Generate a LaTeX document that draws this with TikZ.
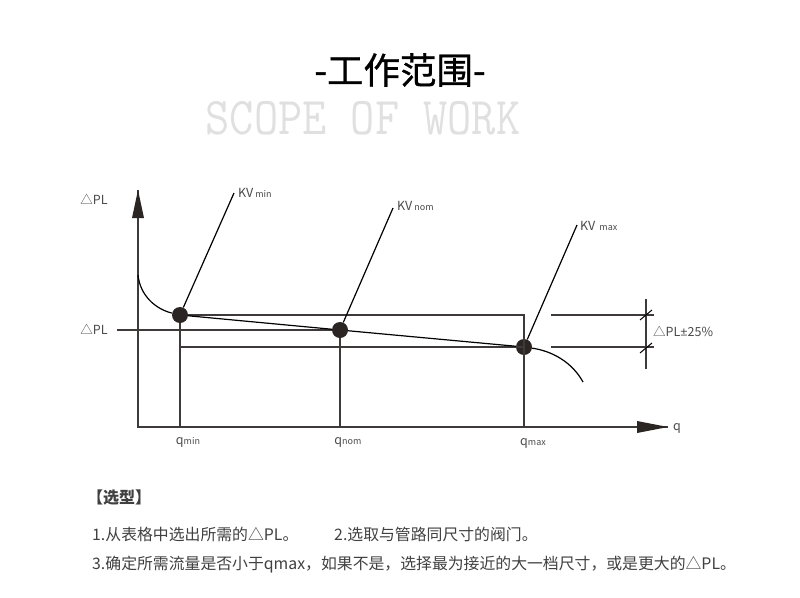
\documentclass[tikz,border=0pt]{standalone}
\usepackage{fontspec}
\usepackage{xcolor}
\setmainfont{Lato}
\newfontfamily\cjk{Noto Sans CJK SC}
\newfontfamily\cjktitle[FakeBold=0.8]{Noto Sans CJK SC}
\definecolor{inkline}{HTML}{3E3A39}
\definecolor{inkdot}{HTML}{2B2523}
\definecolor{inktext}{HTML}{4A4A4A}
\newcommand{\sublab}{\fontsize{9}{10}\selectfont}
\begin{document}
\begin{tikzpicture}[x=1pt,y=-1pt,
    dot/.style={circle, fill=inkdot, minimum size=16pt, inner sep=0pt},
    lab/.style={inner sep=0pt, text=inktext, font=\fontsize{12.5}{14}\selectfont\cjk},
    note/.style={inner sep=0pt, anchor=west, text=black!75, font=\fontsize{15.85}{18}\selectfont\cjk},
    axisline/.style={inkline, line width=1.5pt},
    thinline/.style={inkline, line width=1.3pt},
    curveline/.style={black, line width=1.2pt}]
            \useasboundingbox (0,0) rectangle (800,597);

            \node[inner sep=0pt, font=\fontsize{36.5}{40}\selectfont\cjktitle] (title) at (400,70) {-工作范围-};
            \node[inner sep=0pt, text=black!12, yscale=1.13, transform shape, font=\fontsize{47}{50}\selectfont\ttfamily] (subtitle) at (363,118) {SCOPE OF WORK};

            \coordinate (origin) at (138,427);
            \coordinate (ytip) at (138,190);
            \coordinate (xtip) at (668,427);

            \node[dot] (kvmin) at (180,315) {};
            \node[dot] (kvnom) at (340,330) {};
            \node[dot] (kvmax) at (524,347) {};

            \coordinate (qmin) at (180,427);
            \coordinate (qnom) at (340,427);
            \coordinate (qmax) at (524,427);
            \coordinate (topright) at (524,315);
            \coordinate (lowleft) at (180,347);
            \coordinate (lowright) at (524,347);
            \coordinate (plstart) at (117,330);

            \coordinate (kvminend) at (234,193);
            \coordinate (kvnomend) at (393,208);
            \coordinate (kvmaxend) at (577,225);

            \coordinate (curvestart) at (138,275);
            \coordinate (curveend) at (583,382);

            \coordinate (dimtopl) at (551,315);
            \coordinate (dimtopr) at (654,315);
            \coordinate (dimlowl) at (551,347);
            \coordinate (dimlowr) at (654,347);
            \coordinate (dimup) at (646,299);
            \coordinate (dimdown) at (646,369);

            % axes
            \draw[axisline] (ytip) -- (origin) -- (xtip);
            \fill[inkdot] (138,190) -- (144,218) -- (132,218) -- cycle;
            \fill[inkdot] (668,427) -- (637,433) -- (637,421) -- cycle;

            % verticals and levels
            \draw[thinline] (kvmin) -- (qmin);
            \draw[thinline] (kvnom) -- (qnom);
            \draw[thinline] (kvmin) -- (topright) -- (qmax);
            \draw[thinline] (lowleft) -- (lowright);
            \draw[thinline] (plstart) -- (kvnom);

            % curve
            \draw[curveline] (kvmin) -- (kvnom) -- (kvmax);
            \draw[curveline] (curvestart) .. controls (140,295) and (155,309) .. (kvmin);
            \draw[curveline] (kvmax) .. controls (552,351) and (572,362) .. (curveend);

            % leaders
            \draw[curveline] (kvmin) -- (kvminend);
            \draw[curveline] (kvnom) -- (kvnomend);
            \draw[curveline] (kvmax) -- (kvmaxend);

            % tolerance mark
            \draw[thinline] (dimtopl) -- (dimtopr);
            \draw[thinline] (dimlowl) -- (dimlowr);
            \draw[thinline] (dimup) -- (dimdown);
            \draw[black, line width=1pt] (640,320) -- (652,310);
            \draw[black, line width=1pt] (640,353) -- (652,343);

            % labels
            \node[lab] (ylabel) at (94,199) {△PL};
            \node[lab] (pllabel) at (94,329) {△PL};
            \node[lab, anchor=west] (xlabel) at (673,428) {q};
            \node[lab, anchor=west] (kvminlabel) at (238,193) {KV\,{\sublab min}};
            \node[lab, anchor=west] (kvnomlabel) at (397,206) {KV\,{\sublab nom}};
            \node[lab, anchor=west] (kvmaxlabel) at (580,226) {KV\,\,{\sublab max}};
            \node[lab] (qminlabel) at (188,442) {q{\sublab min}};
            \node[lab] (qnomlabel) at (348,442) {q{\sublab nom}};
            \node[lab] (qmaxlabel) at (533,443) {q{\sublab max}};
            \node[lab, anchor=west] (tollabel) at (653,331) {△PL{\rmfamily ±}25\%};

            % notes
            \node[note, font=\fontsize{16}{18}\selectfont\cjk\bfseries] (selhead) at (87,498) {【选型】};
            \node[note] (stepone) at (92,534) {1.从表格中选出所需的△PL。};
            \node[note] (steptwo) at (334,534) {2.选取与管路同尺寸的阀门。};
            \node[note] (stepthree) at (92,565) {3.确定所需流量是否小于qmax，如果不是，选择最为接近的大一档尺寸，或是更大的△PL。};
        \end{tikzpicture}
\end{document}
